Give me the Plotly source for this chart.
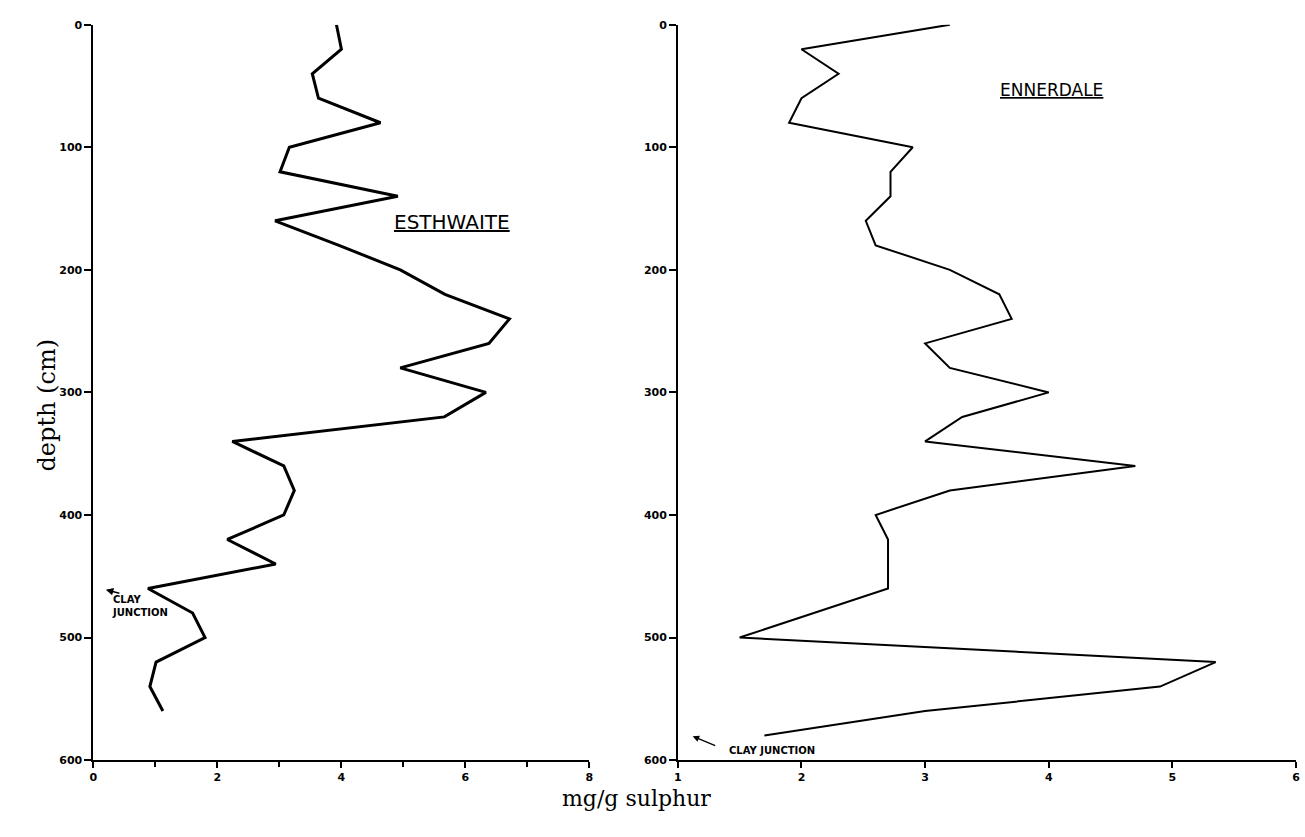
import plotly.graph_objects as go

# ---- data ----
esth_depth = [0, 20, 40, 60, 80, 100, 120, 140, 160, 180, 200, 220, 240, 260, 280, 300,
              320, 340, 360, 380, 400, 420, 440, 460, 480, 500, 520, 540, 560]
esth_sulphur = [3.92, 4.0, 3.53, 3.63, 4.63, 3.16, 3.01, 4.91, 2.93, 3.96, 4.95, 5.67, 6.71, 6.38,
                4.95, 6.33, 5.66, 2.24, 3.07, 3.24, 3.07, 2.16, 2.94, 0.88, 1.6, 1.8, 1.01, 0.91, 1.12]

enn_depth = [0, 20, 40, 60, 80, 100, 120, 140, 160, 180, 200, 220, 240, 260, 280, 300,
             320, 340, 360, 380, 400, 420, 440, 460, 480, 500, 520, 540, 560, 580]
enn_sulphur = [3.2, 2.0, 2.3, 2.0, 1.9, 2.9, 2.72, 2.72, 2.52, 2.6, 3.2, 3.6, 3.7, 3.0, 3.2, 4.0,
               3.3, 3.0, 4.7, 3.2, 2.6, 2.7, 2.7, 2.7, 2.1, 1.5, 5.35, 4.9, 3.0, 1.7]

depth_ticks = [0, 100, 200, 300, 400, 500, 600]
esth_x_ticks = [0, 2, 4, 6, 8]
enn_x_ticks = [1, 2, 3, 4, 5, 6]

W, H = 1305, 837
TICKFONT = dict(family="DejaVu Sans", size=11, color="black", weight="bold")
LETTER = "DejaVu Sans"
SERIF = "DejaVu Serif"

fig = go.Figure()
fig.add_trace(go.Scatter(x=esth_sulphur, y=esth_depth, mode="lines",
                         line=dict(color="black", width=3), xaxis="x", yaxis="y",
                         showlegend=False, hoverinfo="skip"))
fig.add_trace(go.Scatter(x=enn_sulphur, y=enn_depth, mode="lines",
                         line=dict(color="black", width=2), xaxis="x2", yaxis="y2",
                         showlegend=False, hoverinfo="skip"))

ydom = [1 - 766 / H, 1 - 19 / H]
common_y = dict(range=[600, 0], tickvals=depth_ticks, ticks="outside", ticklen=7,
                tickwidth=1.5, tickcolor="black", showline=True, linecolor="black",
                showgrid=False, zeroline=False, tickfont=TICKFONT, domain=ydom)
common_x = dict(ticks="outside", ticklen=6, tickwidth=1.5, tickcolor="black",
                showline=True, linecolor="black", showgrid=False, zeroline=False,
                tickfont=TICKFONT)

fig.update_layout(
    width=W, height=H,
    margin=dict(l=0, r=0, t=0, b=0),
    paper_bgcolor="white", plot_bgcolor="white",
    xaxis=dict(common_x, domain=[90 / W, 589 / W], range=[0, 8], tickvals=esth_x_ticks,
               anchor="y", linewidth=2,
               minor=dict(tickvals=[1, 3, 5, 7], ticks="outside", ticklen=5,
                          tickwidth=1.5, tickcolor="black")),
    yaxis=dict(common_y, anchor="x", linewidth=2),
    xaxis2=dict(common_x, domain=[678 / W, 1300 / W], range=[1, 6], tickvals=enn_x_ticks,
                anchor="y2", linewidth=1.5),
    yaxis2=dict(common_y, anchor="x2", linewidth=1.5),
)

annotations = [
    dict(text="<u>ESTHWAITE</u>", x=5.79, y=161, xref="x", yref="y", showarrow=False,
         font=dict(family=LETTER, size=20, color="black")),
    dict(text="<u>ENNERDALE</u>", x=4.02, y=53, xref="x2", yref="y2", showarrow=False,
         font=dict(family=LETTER, size=17, color="black")),
    dict(text="CLAY<br>JUNCTION", x=0.27, y=474, xref="x", yref="y", showarrow=False,
         xanchor="left", align="left",
         font=dict(family=LETTER, size=10, color="black", weight="bold")),
    dict(text="", x=0.2, y=461, xref="x", yref="y", ax=15, ay=4, showarrow=True,
         arrowhead=2, arrowsize=1, arrowwidth=1.5, arrowcolor="black"),
    dict(text="CLAY JUNCTION", x=1.40, y=592.5, xref="x2", yref="y2", showarrow=False,
         xanchor="left", font=dict(family=LETTER, size=10, color="black", weight="bold")),
    dict(text="", x=1.12, y=580.5, xref="x2", yref="y2", ax=24, ay=10, showarrow=True,
         arrowhead=2, arrowsize=1, arrowwidth=1.3, arrowcolor="black"),
    dict(text="depth (cm)", x=27 / W, y=1 - 405 / H, xref="paper", yref="paper",
         showarrow=False, textangle=-90,
         font=dict(family=SERIF, size=24, color="black")),
    dict(text="mg/g sulphur", x=636 / W, y=1 - 820 / H, xref="paper", yref="paper",
         showarrow=False, font=dict(family=SERIF, size=22, color="black")),
]
fig.update_layout(annotations=annotations)

fig.write_html("out.html")
